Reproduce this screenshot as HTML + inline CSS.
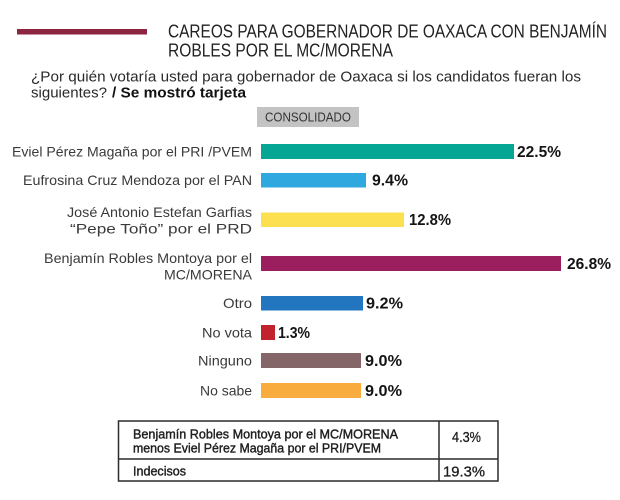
<!DOCTYPE html>
<html>
<head>
<meta charset="utf-8">
<style>
html,body{margin:0;padding:0;background:#fff;width:620px;height:500px;overflow:hidden;}
svg{display:block;}
text{font-family:"Liberation Sans",sans-serif;}
</style>
</head>
<body>
<svg width="620" height="500" viewBox="0 0 620 500" xmlns="http://www.w3.org/2000/svg">
  <rect x="0" y="0" width="620" height="500" fill="#ffffff"/>
  <!-- header bar -->
  <rect x="17" y="29" width="130" height="5.5" fill="#8d2541"/>
  <!-- title -->
  <text x="168" y="37.5" font-size="18" fill="#222" textLength="439" lengthAdjust="spacingAndGlyphs">CAREOS PARA GOBERNADOR DE OAXACA CON BENJAMÍN</text>
  <text x="168" y="56.5" font-size="18" fill="#222" textLength="225" lengthAdjust="spacingAndGlyphs">ROBLES POR EL MC/MORENA</text>
  <!-- question -->
  <text x="31" y="81.5" font-size="15" fill="#2a2a2a" textLength="550" lengthAdjust="spacingAndGlyphs">¿Por quién votaría usted para gobernador de Oaxaca si los candidatos fueran los</text>
  <text x="31" y="97.5" font-size="15" fill="#2a2a2a" textLength="76" lengthAdjust="spacingAndGlyphs">siguientes?</text>
  <text x="112" y="97.5" font-size="15" font-weight="bold" fill="#111" textLength="134" lengthAdjust="spacingAndGlyphs">/ Se mostró tarjeta</text>
  <!-- consolidado -->
  <rect x="257" y="107" width="102" height="20" fill="#c3c3c3"/>
  <text x="265" y="121.5" font-size="12.5" fill="#333" textLength="86" lengthAdjust="spacingAndGlyphs">CONSOLIDADO</text>

  <!-- bars -->
  <rect x="261" y="144" width="253" height="15" fill="#05a693"/>
  <rect x="261" y="173" width="105" height="14.5" fill="#2fa7df"/>
  <rect x="261" y="212.5" width="143" height="14.5" fill="#fde050"/>
  <rect x="261" y="256" width="300" height="15" fill="#9b1f5e"/>
  <rect x="261" y="296" width="102" height="14.5" fill="#2176bf"/>
  <rect x="261" y="325" width="14" height="15" fill="#c1222e"/>
  <rect x="261" y="353" width="100" height="15" fill="#856668"/>
  <rect x="261" y="383" width="100" height="15" fill="#f9ac3e"/>

  <!-- labels -->
  <g font-size="14" fill="#3a3a3a" text-anchor="end">
    <text x="252" y="156.5" textLength="240" lengthAdjust="spacingAndGlyphs">Eviel Pérez Magaña por el PRI /PVEM</text>
    <text x="252" y="185" textLength="229" lengthAdjust="spacingAndGlyphs">Eufrosina Cruz Mendoza por el PAN</text>
    <text x="252" y="217" textLength="185" lengthAdjust="spacingAndGlyphs">José Antonio Estefan Garfias</text>
    <text x="252" y="233.5" textLength="182" lengthAdjust="spacingAndGlyphs">“Pepe Toño” por el PRD</text>
    <text x="252" y="263" textLength="208" lengthAdjust="spacingAndGlyphs">Benjamín Robles Montoya por el</text>
    <text x="252" y="279.5" textLength="88" lengthAdjust="spacingAndGlyphs">MC/MORENA</text>
    <text x="252" y="308" textLength="29" lengthAdjust="spacingAndGlyphs">Otro</text>
    <text x="252" y="337.5" textLength="50" lengthAdjust="spacingAndGlyphs">No vota</text>
    <text x="252" y="365.5" textLength="54" lengthAdjust="spacingAndGlyphs">Ninguno</text>
    <text x="252" y="395.5" textLength="52" lengthAdjust="spacingAndGlyphs">No sabe</text>
  </g>

  <!-- values -->
  <g font-size="16" font-weight="bold" fill="#141414">
    <text x="517" y="157" textLength="44" lengthAdjust="spacingAndGlyphs">22.5%</text>
    <text x="372" y="185.5" textLength="36" lengthAdjust="spacingAndGlyphs">9.4%</text>
    <text x="409" y="225" textLength="42" lengthAdjust="spacingAndGlyphs">12.8%</text>
    <text x="567" y="269" textLength="44" lengthAdjust="spacingAndGlyphs">26.8%</text>
    <text x="366" y="308.5" textLength="37" lengthAdjust="spacingAndGlyphs">9.2%</text>
    <text x="278" y="338" textLength="32" lengthAdjust="spacingAndGlyphs">1.3%</text>
    <text x="365" y="366" textLength="37" lengthAdjust="spacingAndGlyphs">9.0%</text>
    <text x="365" y="396" textLength="37" lengthAdjust="spacingAndGlyphs">9.0%</text>
  </g>

  <!-- table -->
  <rect x="118.5" y="421" width="379.5" height="60" fill="none" stroke="#2b2b2b" stroke-width="1.5"/>
  <line x1="118.5" y1="459" x2="498" y2="459" stroke="#2b2b2b" stroke-width="1.5"/>
  <line x1="439" y1="421" x2="439" y2="481" stroke="#2b2b2b" stroke-width="1.5"/>
  <g font-size="13" fill="#1e1e1e" stroke="#1e1e1e" stroke-width="0.4">
    <text x="133" y="438.5" textLength="265" lengthAdjust="spacingAndGlyphs">Benjamín Robles Montoya por el MC/MORENA</text>
    <text x="133" y="452.5" textLength="248" lengthAdjust="spacingAndGlyphs">menos Eviel Pérez Magaña por el PRI/PVEM</text>
    <text x="133" y="475.5" textLength="53" lengthAdjust="spacingAndGlyphs">Indecisos</text>
  </g>
  <g font-size="15" fill="#1e1e1e" stroke="#1e1e1e" stroke-width="0.3">
    <text x="452" y="442" textLength="29" lengthAdjust="spacingAndGlyphs">4.3%</text>
    <text x="443" y="476.5" textLength="42" lengthAdjust="spacingAndGlyphs">19.3%</text>
  </g>
</svg>
</body>
</html>
